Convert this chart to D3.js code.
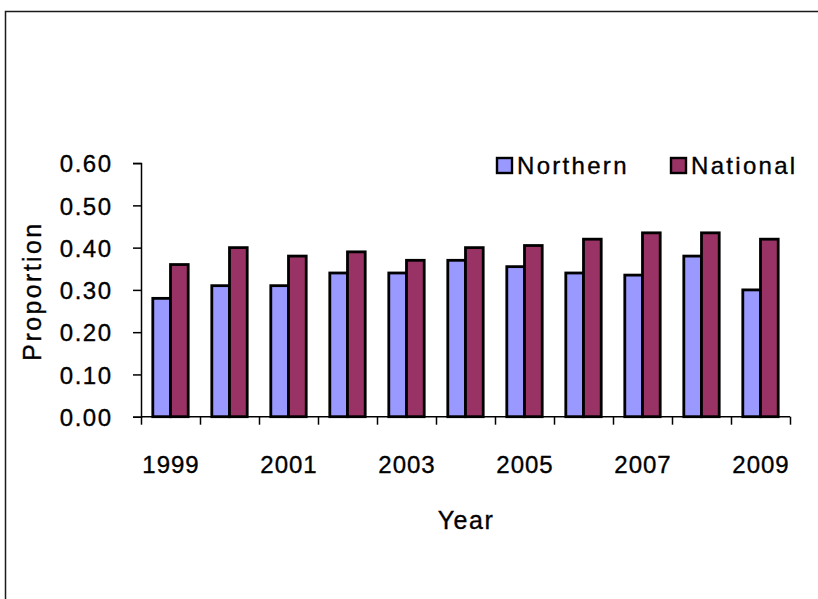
<!DOCTYPE html>
<html>
<head>
<meta charset="utf-8">
<script src="https://cdn.jsdelivr.net/npm/d3@7"></script>
<style>
  html, body { margin: 0; padding: 0; background: #fff; }
  svg { display: block; font-family: "Liberation Sans", Arial, sans-serif; }
  .lbl { fill: #000; stroke: #000; stroke-width: 0.35px; }
</style>
</head>
<body>
<svg id="chart" width="818" height="599"></svg>
<script>
// Share of records by year, regional vs. national
const years = [1999, 2000, 2001, 2002, 2003, 2004, 2005, 2006, 2007, 2008, 2009];
const northern = [0.28, 0.31, 0.31, 0.34, 0.34, 0.37, 0.355, 0.34, 0.335, 0.38, 0.30];
const national = [0.36, 0.40, 0.38, 0.39, 0.37, 0.40, 0.405, 0.42, 0.435, 0.435, 0.42];
const seriesNames = ["Northern", "National"];
const seriesColors = ["#9999FF", "#993366"];
const yTicks = [0, 0.1, 0.2, 0.3, 0.4, 0.5, 0.6];
const yearLabels = [1999, 2001, 2003, 2005, 2007, 2009];

const svg = d3.select("#chart");

// chart frame (runs off the right and bottom edges)
svg.append("rect")
  .attr("x", 5.5).attr("y", 11.5)
  .attr("width", 1000).attr("height", 1000)
  .attr("fill", "#fff").attr("stroke", "#1a1a1a").attr("stroke-width", 1.5);

const plot = { left: 141, right: 790, top: 163.1, bottom: 416.7 };

const y = d3.scaleLinear().domain([0, 0.6]).range([plot.bottom, plot.top]);
const x0 = d3.scaleBand().domain(years).range([plot.left, plot.right]).padding(0);
const groupFrac = 0.6;
const x1 = d3.scaleBand().domain(seriesNames)
  .range([x0.bandwidth() * (1 - groupFrac) / 2, x0.bandwidth() * (1 + groupFrac) / 2]);
// boundary scale for the category tick marks
const xEdge = d3.scaleLinear().domain([0, years.length]).range([plot.left, plot.right]);

const rows = years.map((yr, i) => ({ year: yr, values: [northern[i], national[i]] }));

// bars
const groups = svg.append("g").selectAll("g").data(rows).join("g")
  .attr("transform", d => `translate(${x0(d.year)},0)`);
groups.selectAll("rect")
  .data(d => d.values.map((v, j) => ({ name: seriesNames[j], v, color: seriesColors[j] })))
  .join("rect")
  .attr("x", d => x1(d.name))
  .attr("width", x1.bandwidth())
  .attr("y", d => y(d.v))
  .attr("height", d => y(0) - y(d.v))
  .attr("fill", d => d.color)
  .attr("stroke", "#000")
  .attr("stroke-width", 2.8);

// y axis
const yAxis = svg.append("g")
  .attr("transform", `translate(${plot.left},0)`)
  .call(d3.axisLeft(y).tickValues(yTicks).tickFormat(d3.format(".2f")).tickSize(8).tickPadding(22));
yAxis.selectAll("path, line").attr("stroke", "#000").attr("stroke-width", 1.5);
yAxis.selectAll("text")
  .attr("class", "lbl")
  .attr("font-size", 24)
  .attr("letter-spacing", "1.5px")
  .attr("dx", 1.5)
  .attr("dy", "0.36em");

// x axis: ticks at category boundaries
const xAxis = svg.append("g")
  .attr("transform", `translate(0,${plot.bottom})`)
  .call(d3.axisBottom(xEdge).tickValues(d3.range(0, years.length + 1)).tickSize(8).tickSizeOuter(0).tickFormat(""));
xAxis.select("path").attr("d", `M${plot.left},0H${plot.right}`);
xAxis.selectAll("path, line").attr("stroke", "#000").attr("stroke-width", 1.5);

// year labels on alternate categories
svg.append("g").selectAll("text").data(yearLabels).join("text")
  .attr("class", "lbl")
  .attr("x", d => x0(d) + x0.bandwidth() / 2 + 0.5)
  .attr("y", 473)
  .attr("text-anchor", "middle")
  .attr("font-size", 24)
  .attr("letter-spacing", "1px")
  .text(d => d);

// axis titles
svg.append("text")
  .attr("class", "lbl")
  .attr("x", 466).attr("y", 529)
  .attr("text-anchor", "middle")
  .attr("font-size", 25).attr("letter-spacing", "1.5px")
  .text("Year");

svg.append("text")
  .attr("class", "lbl")
  .attr("transform", "translate(41,291) rotate(-90)")
  .attr("text-anchor", "middle")
  .attr("font-size", 25).attr("letter-spacing", "2.4px")
  .text("Proportion");

// legend
const legendX = [497, 671];
const legend = svg.append("g").selectAll("g").data(seriesNames).join("g")
  .attr("transform", (d, i) => `translate(${legendX[i]},158)`);
legend.append("rect")
  .attr("width", 15).attr("height", 15)
  .attr("fill", (d, i) => seriesColors[i])
  .attr("stroke", "#000").attr("stroke-width", 2.4);
legend.append("text")
  .attr("class", "lbl")
  .attr("x", 20).attr("y", 16)
  .attr("font-size", 24).attr("letter-spacing", "2.3px")
  .text(d => d);
</script>
</body>
</html>
